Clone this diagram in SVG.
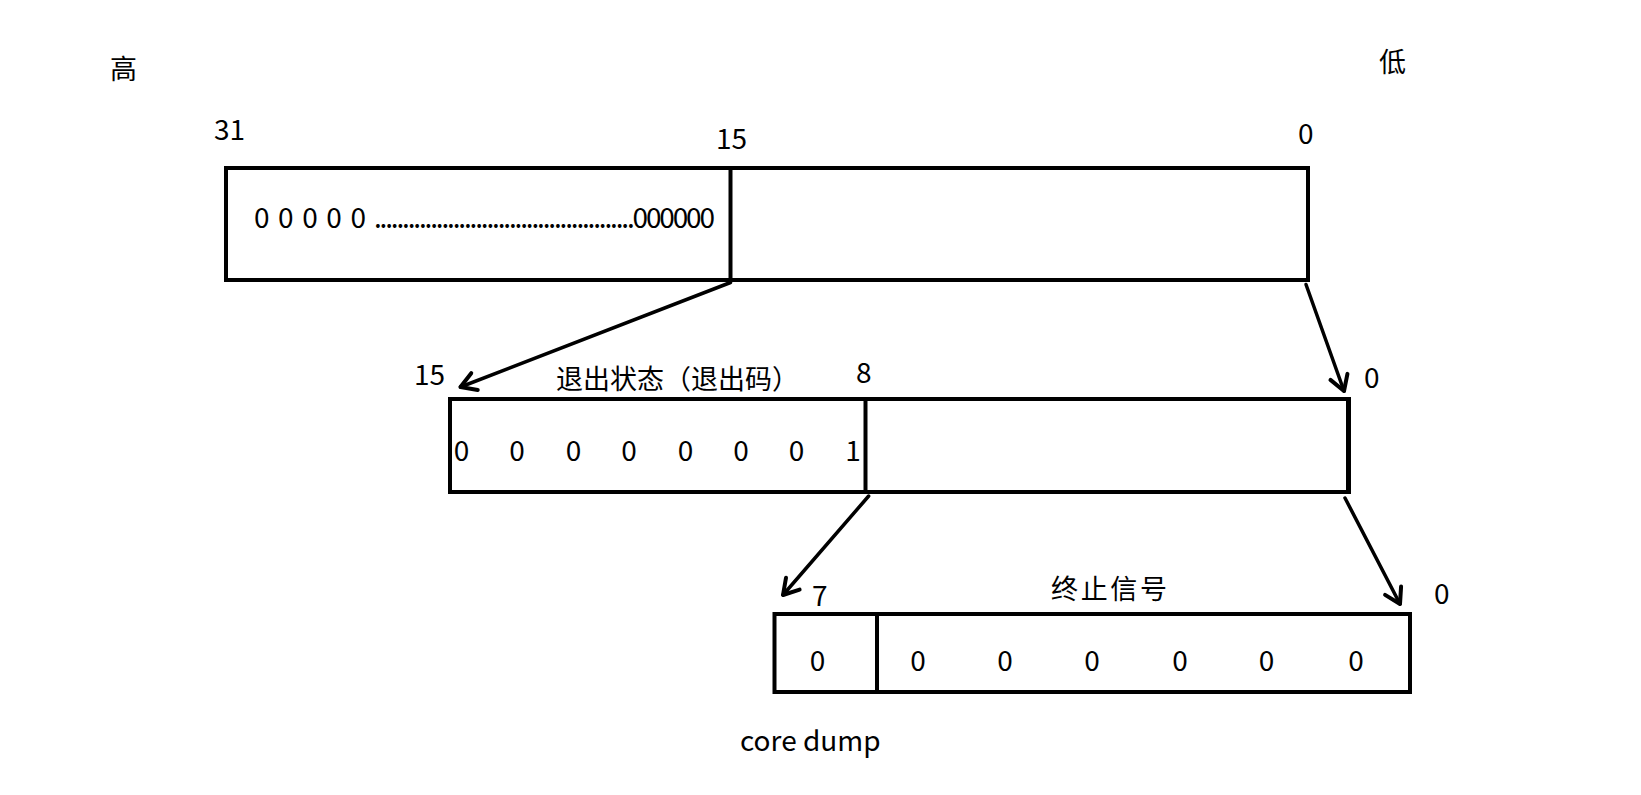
<svg xmlns="http://www.w3.org/2000/svg" width="1641" height="795" viewBox="0 0 1641 795">
<style>
text{font-family:"Noto Sans CJK SC","Noto Sans",sans-serif;fill:#000;font-size:28px}
.cjk{font-size:27px}
.box{fill:none;stroke:#000;stroke-width:4}
.div{stroke:#000;stroke-width:4}
.arr{fill:none;stroke:#000;stroke-width:3.5;stroke-linecap:round}
.m{text-anchor:middle}
</style>
<defs>
<marker id="ah" markerUnits="userSpaceOnUse" viewBox="-20 -12 24 24" markerWidth="24" markerHeight="24" refX="0" refY="0" orient="auto">
<path d="M-15,-9 L0,0 L-15,9" fill="none" stroke="#000" stroke-width="4" stroke-linecap="round" stroke-linejoin="round"/>
</marker>
</defs>
<rect width="1641" height="795" fill="#fff"/>
<g id="labels-top">
<text class="cjk" x="110" y="79">高</text>
<text class="cjk" x="1379" y="72">低</text>
<text x="214" y="140">31</text>
<text x="716" y="149">15</text>
<text x="1298" y="144">0</text>
</g>
<g id="node-32bit">
<rect class="box" x="226" y="168" width="1082" height="112"/>
<line class="div" x1="730.5" y1="168" x2="730.5" y2="280"/>
<text x="254" y="228" textLength="112" lengthAdjust="spacing">0 0 0 0 0</text>
<text x="374" y="228" textLength="341" lengthAdjust="spacing">..............................................000000</text>
</g>
<g id="node-16bit">
<text x="414" y="385">15</text>
<text class="cjk" x="556" y="389">退出状态（退出码）</text>
<text x="856" y="383">8</text>
<text x="1364" y="388">0</text>
<rect class="box" x="450" y="399" width="898" height="93"/>
<line class="div" x1="865.5" y1="399" x2="865.5" y2="492"/>
<line class="div" x1="1349" y1="397" x2="1349" y2="494" stroke-width="3"/>
<text class="m" x="461.5" y="461">0</text>
<text class="m" x="517" y="461">0</text>
<text class="m" x="573.5" y="461">0</text>
<text class="m" x="629" y="461">0</text>
<text class="m" x="685.5" y="461">0</text>
<text class="m" x="741" y="461">0</text>
<text class="m" x="796.5" y="461">0</text>
<text class="m" x="853" y="461">1</text>
</g>
<g id="node-8bit">
<text x="812" y="606">7</text>
<text class="cjk" x="1051" y="599" textLength="116">终止信号</text>
<text x="1434" y="604">0</text>
<rect class="box" x="774.5" y="614" width="635.5" height="78"/>
<line class="div" x1="877" y1="614" x2="877" y2="692"/>
<text class="m" x="817.5" y="671">0</text>
<text class="m" x="918" y="671">0</text>
<text class="m" x="1005" y="671">0</text>
<text class="m" x="1092" y="671">0</text>
<text class="m" x="1180" y="671">0</text>
<text class="m" x="1266.5" y="671">0</text>
<text class="m" x="1356" y="671">0</text>
<text x="740" y="751">core dump</text>
</g>
<g id="connectors">
<line class="arr" x1="730.5" y1="282.5" x2="460.5" y2="387" marker-end="url(#ah)"/>
<line class="arr" x1="1306" y1="284.5" x2="1344" y2="391" marker-end="url(#ah)"/>
<line class="arr" x1="868.7" y1="496" x2="783" y2="595" marker-end="url(#ah)"/>
<line class="arr" x1="1345" y1="498" x2="1400" y2="604" marker-end="url(#ah)"/>
</g>
</svg>
